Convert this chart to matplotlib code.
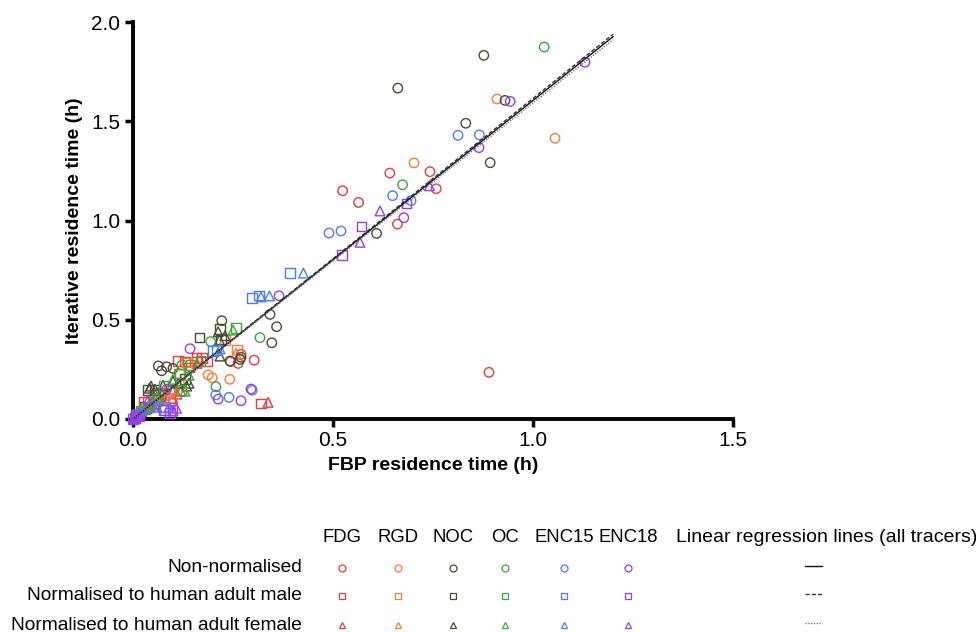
import matplotlib
matplotlib.use("Agg")
import matplotlib.pyplot as plt
from matplotlib.lines import Line2D
import numpy as np

plt.rcParams['font.family'] = ['Liberation Sans', 'DejaVu Sans']

tracers = ["FDG", "RGD", "NOC", "OC", "ENC15", "ENC18"]
colors = ["#F23A3A", "#FF7A3D", "#4C4C34", "#3CA83C", "#4A7DFF", "#9A3DEB"]
row_labels = ["Non-normalised", "Normalised to human adult male", "Normalised to human adult female"]

# (FBP, Iterative) residence times in hours
fdg_non = [(0.524, 1.15), (0.564, 1.091), (0.642, 1.239), (0.7425, 1.246), (0.758, 1.16), (0.661, 0.982),
           (0.89, 0.235), (0.303, 0.296), (0.27, 0.326), (0.244, 0.289), (0.263, 0.28), (0.02, 0.03),
           (0.04, 0.06), (0.06, 0.1)]
fdg_male = [(0.32, 0.079), (0.113, 0.292), (0.13, 0.289), (0.159, 0.306), (0.172, 0.306), (0.185, 0.29),
            (0.0925, 0.104), (0.026, 0.087), (0.037, 0.087), (0.051, 0.079), (0.063, 0.096), (0.07, 0.13),
            (0.14, 0.26), (0.01, 0.02), (0.02, 0.04), (0.16, 0.29)]
fdg_female = [(0.3375, 0.084), (0.1, 0.104), (0.08, 0.12), (0.12, 0.14), (0.05, 0.07), (0.03, 0.05),
              (0.16, 0.28), (0.01, 0.02), (0.07, 0.1), (0.11, 0.125)]

rgd_non = [(0.91, 1.612), (1.055, 1.414), (0.7025, 1.29), (0.188, 0.222), (0.198, 0.208), (0.242, 0.2),
           (0.02, 0.03), (0.04, 0.05), (0.08, 0.1)]
rgd_male = [(0.26, 0.351), (0.135, 0.285), (0.115, 0.23), (0.055, 0.1), (0.03, 0.05), (0.09, 0.14),
            (0.01, 0.02), (0.23, 0.398)]
rgd_female = [(0.2575, 0.331), (0.12, 0.19), (0.06, 0.09), (0.03, 0.05), (0.1, 0.15), (0.01, 0.02)]

noc_non = [(0.877, 1.832), (0.662, 1.667), (0.93, 1.605), (0.832, 1.49), (0.893, 1.291), (0.609, 0.935),
           (0.222, 0.495), (0.3425, 0.527), (0.359, 0.465), (0.347, 0.384), (0.27, 0.311), (0.2425, 0.292),
           (0.2675, 0.3), (0.0633, 0.267), (0.0717, 0.243), (0.1, 0.255), (0.084, 0.263), (0.02, 0.03),
           (0.04, 0.05)]
noc_male = [(0.166, 0.41), (0.2175, 0.453), (0.038, 0.146), (0.055, 0.145), (0.13, 0.2), (0.22, 0.4),
            (0.01, 0.02), (0.03, 0.06)]
noc_female = [(0.213, 0.44), (0.216, 0.398), (0.2175, 0.317), (0.041, 0.155), (0.045, 0.166), (0.055, 0.15),
              (0.1, 0.191), (0.113, 0.18), (0.134, 0.166), (0.14, 0.18), (0.075, 0.17), (0.23, 0.42),
              (0.01, 0.02)]

oc_non = [(1.028, 1.874), (0.674, 1.18), (0.3175, 0.41), (0.194, 0.39), (0.2075, 0.163), (0.1225, 0.272),
          (0.02, 0.04), (0.05, 0.08)]
oc_male = [(0.2575, 0.458), (0.1175, 0.23), (0.144, 0.272), (0.169, 0.292), (0.076, 0.166), (0.12, 0.146),
           (0.03, 0.05), (0.06, 0.1), (0.01, 0.02)]
oc_female = [(0.25, 0.448), (0.13, 0.14), (0.1, 0.2), (0.14, 0.22), (0.06, 0.11), (0.03, 0.05), (0.01, 0.02)]

enc15_non = [(0.8125, 1.429), (0.866, 1.431), (0.649, 1.125), (0.695, 1.10), (0.49, 0.937), (0.52, 0.947),
             (0.207, 0.121), (0.24, 0.109), (0.298, 0.145), (0.02, 0.03)]
enc15_male = [(0.3925, 0.735), (0.297, 0.611), (0.315, 0.623), (0.2, 0.344), (0.209, 0.348), (0.08, 0.045),
              (0.075, 0.06), (0.04, 0.06), (0.01, 0.02)]
enc15_female = [(0.426, 0.735), (0.32, 0.615), (0.341, 0.62), (0.2175, 0.353), (0.09, 0.06), (0.06, 0.06),
                (0.01, 0.02)]

enc18_non = [(1.13, 1.797), (0.943, 1.6), (0.865, 1.367), (0.677, 1.014), (0.365, 0.621), (0.1425, 0.354),
             (0.084, 0.15), (0.213, 0.1), (0.27, 0.092), (0.295, 0.151), (0.005, 0.005), (0.01, 0.01)]
enc18_male = [(0.684, 1.086), (0.571, 0.969), (0.523, 0.825), (0.076, 0.045), (0.0925, 0.029), (0.099, 0.045),
              (0.005, 0.005), (0.015, 0.015), (0.0, 0.0)]
enc18_female = [(0.741, 1.175), (0.6175, 1.048), (0.5675, 0.89), (0.038, 0.096), (0.109, 0.054), (0.1, 0.04),
                (0.005, 0.005), (0.015, 0.02), (0.002, 0.0)]

series = [
    [fdg_non, fdg_male, fdg_female],
    [rgd_non, rgd_male, rgd_female],
    [noc_non, noc_male, noc_female],
    [oc_non, oc_male, oc_female],
    [enc15_non, enc15_male, enc15_female],
    [enc18_non, enc18_male, enc18_female],
]
markers = ["o", "s", "^"]

# regression slopes (all tracers) and x-range
reg_slopes = [1.605, 1.615, 1.592]
reg_styles = [("-", "#111111", 1.0), ((0, (3, 1.5)), "#333333", 1.0), ((0, (1, 1)), "#777777", 1.0)]
reg_xmax = 1.2

fig = plt.figure(figsize=(9.76, 6.32), dpi=100)
ax = fig.add_axes([133 / 976, 1 - 419 / 632, 600 / 976, 397 / 632])

for ti, tr in enumerate(series):
    for ni, pts in enumerate(tr):
        arr = np.array(pts)
        ax.scatter(arr[:, 0], arr[:, 1], marker=markers[ni], s=46 if ni == 0 else 48,
                   facecolors="none", edgecolors=colors[ti], linewidths=1.0, clip_on=False, zorder=3)

xs = np.array([0.0, reg_xmax])
for slope, (ls, c, lw) in zip(reg_slopes, reg_styles):
    ax.plot(xs, slope * xs, linestyle=ls, color=c, linewidth=lw, zorder=4)

ax.set_xlim(0, 1.5)
ax.set_ylim(0, 2.0)
ax.set_xticks([0, 0.5, 1.0, 1.5])
ax.set_xticklabels(["0.0", "0.5", "1.0", "1.5"])
ax.set_yticks([0, 0.5, 1.0, 1.5, 2.0])
ax.set_yticklabels(["0.0", "0.5", "1.0", "1.5", "2.0"])
for s in ["top", "right"]:
    ax.spines[s].set_visible(False)
for s in ["left", "bottom"]:
    ax.spines[s].set_linewidth(2.8)
ax.tick_params(axis="both", direction="out", length=6, width=2.5, labelsize=15, pad=3)
ax.set_xlabel("FBP residence time (h)", fontsize=14, fontweight="bold", labelpad=5)
ax.set_ylabel("Iterative residence time (h)", fontsize=14, fontweight="bold", labelpad=6)

# custom legend table
def fx(px):
    return px / 976

def fy(py):
    return 1 - py / 632

col_x = [342, 398, 453, 505, 564, 628]
header_y = 538
row_y = [568, 596, 625]
for name, cx in zip(tracers, col_x):
    fig.text(fx(cx), fy(header_y), name, ha="center", va="center", fontsize=13.3)
fig.text(fx(827), fy(header_y), "Linear regression lines (all tracers)", ha="center", va="center", fontsize=14)
for lbl, ry in zip(row_labels, row_y):
    fig.text(fx(302), fy(ry), lbl, ha="right", va="center", fontsize=13.8)
for ni, ry in enumerate(row_y):
    for ti, cx in enumerate(col_x):
        fig.add_artist(Line2D([fx(cx)], [fy(ry)], transform=fig.transFigure, marker=markers[ni],
                              markersize=5, markerfacecolor="none", markeredgecolor=colors[ti],
                              markeredgewidth=0.9, linestyle="none"))
    ls, c, lw = reg_styles[ni]
    fig.add_artist(Line2D([fx(805), fx(822)], [fy(ry - 2), fy(ry - 2)], transform=fig.transFigure,
                          linestyle=ls, color=c, linewidth=lw))

fig.savefig("out.png", dpi=100)
